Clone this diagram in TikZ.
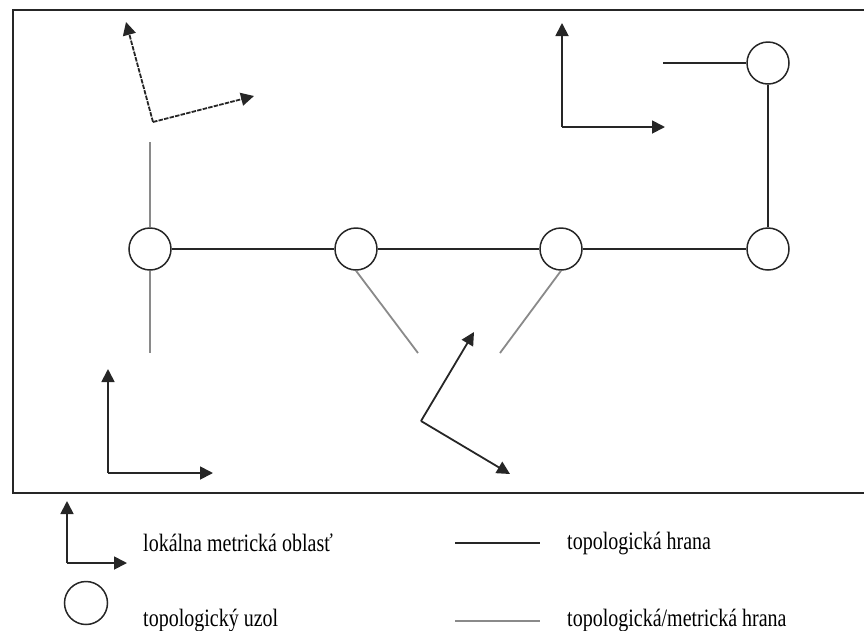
\documentclass[tikz,border=0pt]{standalone}
\usepackage{fontspec}
\setmainfont{Liberation Serif}
\usetikzlibrary{arrows.meta}
\definecolor{ink}{HTML}{262626}
\definecolor{greyedge}{HTML}{8A8A8A}
\tikzset{
  topo/.style={circle, draw=ink, line width=1.5pt, minimum size=42pt, inner sep=0pt},
  tedge/.style={draw=ink, line width=1.7pt},
  gedge/.style={draw=greyedge, line width=1.8pt},
  axis/.style={draw=ink, line width=1.8pt, -{Triangle[length=13pt,width=13pt]}},
  dashaxis/.style={axis, dash pattern=on 4.5pt off 1.2pt},
  frame/.style={draw=ink, line width=1.6pt},
  lbl/.style={anchor=west, inner sep=0pt, font=\fontsize{20}{22}\selectfont}
}
\newcommand{\tall}[1]{\scalebox{1}[1.25]{#1}}
\begin{document}
\begin{tikzpicture}[x=1pt,y=-1pt]
\useasboundingbox (0,0) rectangle (864,630);
% outer frame (right edge outside the picture)
\draw[frame] (870,10) -- (12.7,10) -- (12.7,493) -- (870,493);

% topological nodes
\node[topo] (n1) at (150,249) {};
\node[topo] (n2) at (356,249) {};
\node[topo] (n3) at (561,249) {};
\node[topo] (n4) at (768,249) {};
\node[topo] (n5) at (768,63) {};

% free ends
\coordinate (e5) at (663,63);
\coordinate (g1a) at (150,142);
\coordinate (g1b) at (150,353);
\coordinate (g2) at (418,353);
\coordinate (g3) at (500,353);

% topological edges
\draw[tedge] (n1) -- (n2);
\draw[tedge] (n2) -- (n3);
\draw[tedge] (n3) -- (n4);
\draw[tedge] (n4) -- (n5);
\draw[tedge] (n5) -- (e5);

% topological/metric edges
\draw[gedge] (n1.north) -- (g1a);
\draw[gedge] (n1.south) -- (g1b);
\draw[gedge] (n2.south) -- (g2);
\draw[gedge] (n3.south) -- (g3);

% local metric frames
\coordinate (o1) at (153,122);
\coordinate (o1a) at (126,22);
\coordinate (o1b) at (254,96);
\draw[dashaxis] (o1) -- (o1a);
\draw[dashaxis] (o1) -- (o1b);

\coordinate (o2) at (562,127);
\coordinate (o2a) at (562,23);
\coordinate (o2b) at (665,127);
\draw[axis] (o2) -- (o2a);
\draw[axis] (o2) -- (o2b);

\coordinate (o3) at (421,421);
\coordinate (o3a) at (474,332);
\coordinate (o3b) at (510,474);
\draw[axis] (o3) -- (o3a);
\draw[axis] (o3) -- (o3b);

\coordinate (o4) at (108,473);
\coordinate (o4a) at (108,369);
\coordinate (o4b) at (213,473);
\draw[axis] (o4) -- (o4a);
\draw[axis] (o4) -- (o4b);

% legend
\coordinate (lo) at (67,563);
\coordinate (loa) at (67,501);
\coordinate (lob) at (127,563);
\draw[axis] (lo) -- (loa);
\draw[axis] (lo) -- (lob);
\node[lbl] (t1) at (143,543) {\tall{lokálna metrická oblasť}};

\node[topo, minimum size=43pt] (ln) at (86,603) {};
\node[lbl] (t2) at (143,620) {\tall{topologický uzol}};

\coordinate (la1) at (455,543);
\coordinate (la2) at (540,543);
\draw[tedge] (la1) -- (la2);
\node[lbl] (t3) at (567,543) {\tall{topologická hrana}};

\coordinate (lg1) at (455,621);
\coordinate (lg2) at (540,621);
\draw[gedge] (lg1) -- (lg2);
\node[lbl] (t4) at (567,620) {\tall{topologická/metrická hrana}};
\end{tikzpicture}
\end{document}
